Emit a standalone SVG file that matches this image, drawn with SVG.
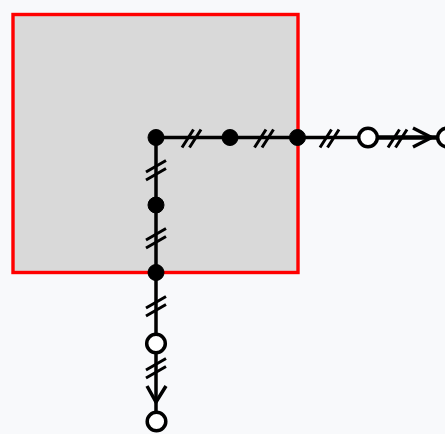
<svg xmlns="http://www.w3.org/2000/svg" width="445" height="434" viewBox="0 0 445 434">
<style>
.ln{fill:none;stroke:#000;stroke-width:3.500}
.tick{fill:none;stroke:#000;stroke-width:3}
.solid{fill:#000;stroke:#000;stroke-width:1}
.open{fill:#fff;stroke:#000;stroke-width:3.500}
.region{fill:#d9d9d9;stroke:#ff0000;stroke-width:3.400;stroke-linejoin:miter}
</style>
<defs>
<path id="th" class="tick" d="M-9.500 9.500L2 -8.500M-2 9.500L9.500 -8.500"/>
<path id="tv" class="tick" d="M-10 -2L10 -13.500M-10 6L10 -5.500" transform="translate(0 4)"/>
</defs>
<rect width="445" height="434" fill="#f8f9fb"/>
<g id="region"><rect class="region" x="13" y="14.500" width="285" height="258"/></g>
<g id="connectors">
<path class="ln" d="M156 137.500H368M156 137.500V421"/>
<path class="ln" style="stroke-width:4.500" d="M368 137.500H447"/>
<use href="#th" x="191.500" y="138"/>
<use href="#th" x="264" y="138"/>
<use href="#th" x="329.500" y="138"/>
<use href="#th" x="397.500" y="138"/>
<use href="#tv" x="156" y="170"/>
<use href="#tv" x="156" y="238"/>
<use href="#tv" x="156" y="306"/>
<use href="#tv" x="156" y="368"/>
<path class="ln" d="M413 128L431.500 137.500L413 147"/>
<path class="ln" d="M147 386L156 402L166 386"/>
</g>
<g id="n1"><circle class="solid" cx="156" cy="137.500" r="8"/></g>
<g id="n2"><circle class="solid" cx="230" cy="137.500" r="8"/></g>
<g id="n3"><circle class="solid" cx="297.500" cy="137.500" r="8"/></g>
<g id="n4"><circle class="solid" cx="156" cy="205" r="8"/></g>
<g id="n5"><circle class="solid" cx="156" cy="272.500" r="8"/></g>
<g id="n6"><circle class="open" cx="368" cy="137.500" r="9.300"/></g>
<g id="n7"><circle class="open" cx="447" cy="137.500" r="9.300"/></g>
<g id="n8"><circle class="open" cx="156" cy="343.500" r="9.300"/></g>
<g id="n9"><circle class="open" cx="156.500" cy="421.500" r="9.300"/></g>
</svg>
